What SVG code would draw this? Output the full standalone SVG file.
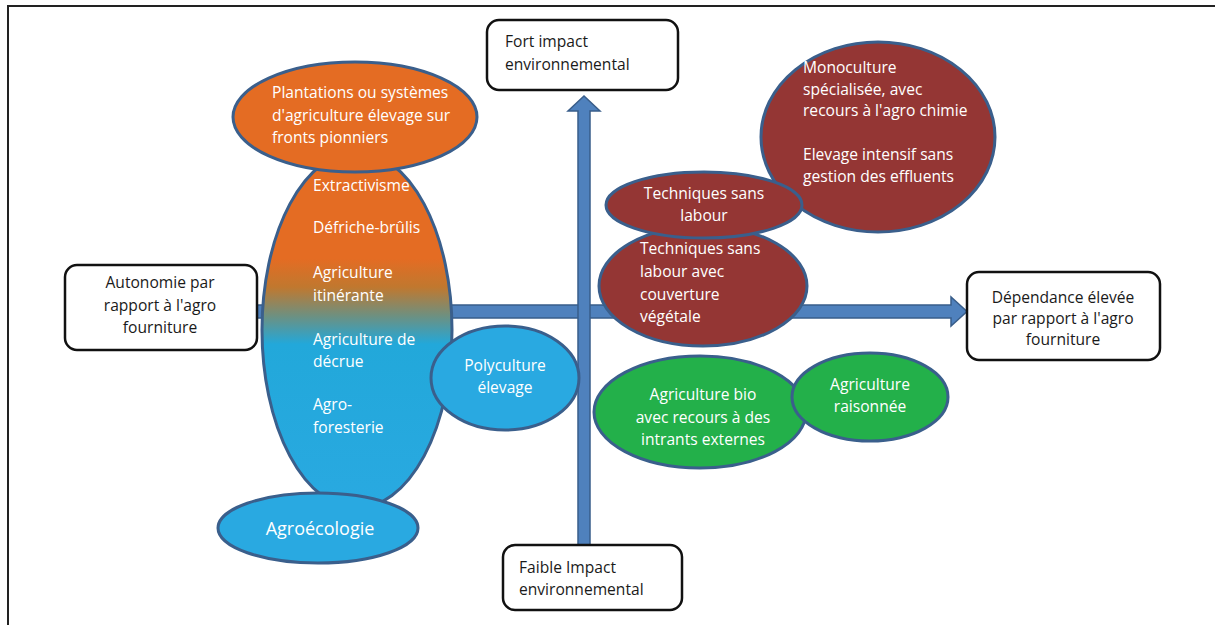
<svg xmlns="http://www.w3.org/2000/svg" width="1215" height="625" viewBox="0 0 1215 625">
<defs>
<linearGradient id="g1" x1="0" y1="0" x2="0" y2="1">
<stop offset="0" stop-color="#E46C23"/>
<stop offset="0.3" stop-color="#E46C23"/>
<stop offset="0.38" stop-color="#C0782F"/>
<stop offset="0.46" stop-color="#6E9080"/>
<stop offset="0.54" stop-color="#22A8DA"/>
<stop offset="1" stop-color="#29A9E1"/>
</linearGradient>
</defs>
<style>
.o{fill:#E46C23;stroke:#3A5F8C;stroke-width:3}
.b{fill:#29A9E1;stroke:#3A5F8C;stroke-width:3}
.r{fill:#943634;stroke:#3A5F8C;stroke-width:3}
.g{fill:#23B04A;stroke:#3A5F8C;stroke-width:3}
.box{fill:#fff;stroke:#111;stroke-width:2.5}
.arr{fill:#4F81BD;stroke:#385D8A;stroke-width:1.5}
text{font-family:"Open Sans","Liberation Sans",sans-serif;font-size:15.6px}
.w{fill:#fff}
.k{fill:#1a1a1a}
.c{text-anchor:middle}
</style>
<rect x="8" y="6" width="1230" height="640" fill="#fff" stroke="#222" stroke-width="2"/>
<g id="connectors">
<path class="arr" d="M257,305 H951 V297 L967,311.5 L951,326 V318 H257 Z"/>
<path class="arr" d="M578,545 V111 H568 L584,96 L600,111 H590 V545 Z"/>
</g>
<g id="n-fort">
<rect class="box" x="487" y="20" width="191" height="70" rx="12"/>
<text class="k" x="505" y="47">Fort impact</text>
<text class="k" x="505" y="70">environnemental</text>
</g>
<g id="n-autonomie">
<rect class="box" x="65" y="265" width="192" height="85" rx="12"/>
<text class="k c" x="160" y="288">Autonomie par</text>
<text class="k c" x="160" y="311">rapport à l'agro</text>
<text class="k c" x="160" y="333">fourniture</text>
</g>
<g id="n-dependance">
<rect class="box" x="967" y="272" width="193" height="88" rx="12"/>
<text class="k c" x="1063" y="303">Dépendance élevée</text>
<text class="k c" x="1063" y="324">par rapport à l'agro</text>
<text class="k c" x="1063" y="345">fourniture</text>
</g>
<g id="n-faible">
<rect class="box" x="503" y="545" width="179" height="65" rx="12"/>
<text class="k" x="519" y="573">Faible Impact</text>
<text class="k" x="519" y="595">environnemental</text>
</g>
<g id="n-gradient">
<ellipse cx="357" cy="330" rx="95" ry="178" fill="url(#g1)" stroke="#3A5F8C" stroke-width="3"/>
<text class="w" x="313" y="191">Extractivisme</text>
<text class="w" x="313" y="233">Défriche-brûlis</text>
<text class="w" x="313" y="278">Agriculture</text>
<text class="w" x="313" y="301">itinérante</text>
<text class="w" x="313" y="345">Agriculture de</text>
<text class="w" x="313" y="367">décrue</text>
<text class="w" x="313" y="410">Agro-</text>
<text class="w" x="313" y="433">foresterie</text>
</g>
<g id="n-plantations">
<ellipse class="o" cx="355" cy="117" rx="122" ry="55"/>
<text class="w" x="272" y="98">Plantations ou systèmes</text>
<text class="w" x="272" y="121">d'agriculture élevage sur</text>
<text class="w" x="272" y="143">fronts pionniers</text>
</g>
<g id="n-agroecologie">
<ellipse class="b" cx="318" cy="528" rx="100" ry="35"/>
<text class="w c" x="320" y="535" style="font-size:18px">Agroécologie</text>
</g>
<g id="n-polyculture">
<ellipse class="b" cx="505" cy="378" rx="74" ry="52"/>
<text class="w c" x="505" y="371">Polyculture</text>
<text class="w c" x="505" y="393">élevage</text>
</g>
<g id="n-monoculture">
<ellipse class="r" cx="878" cy="137" rx="117" ry="95"/>
<text class="w" x="803" y="73">Monoculture</text>
<text class="w" x="803" y="95">spécialisée, avec</text>
<text class="w" x="803" y="116">recours à l'agro chimie</text>
<text class="w" x="803" y="160">Elevage intensif sans</text>
<text class="w" x="803" y="182">gestion des effluents</text>
</g>
<g id="n-couverture">
<ellipse class="r" cx="703" cy="286" rx="104" ry="60"/>
<text class="w" x="640" y="254">Techniques sans</text>
<text class="w" x="640" y="277">labour avec</text>
<text class="w" x="640" y="300">couverture</text>
<text class="w" x="640" y="322">végétale</text>
</g>
<g id="n-sanslabour">
<ellipse class="r" cx="704" cy="205" rx="98" ry="33"/>
<text class="w c" x="704" y="199">Techniques sans</text>
<text class="w c" x="704" y="221">labour</text>
</g>
<g id="n-bio">
<ellipse class="g" cx="700" cy="412" rx="106" ry="56"/>
<text class="w c" x="703" y="400">Agriculture bio</text>
<text class="w c" x="703" y="423">avec recours à des</text>
<text class="w c" x="703" y="445">intrants externes</text>
</g>
<g id="n-raisonnee">
<ellipse class="g" cx="870" cy="397" rx="78" ry="44"/>
<text class="w c" x="870" y="390">Agriculture</text>
<text class="w c" x="870" y="412">raisonnée</text>
</g>
</svg>
